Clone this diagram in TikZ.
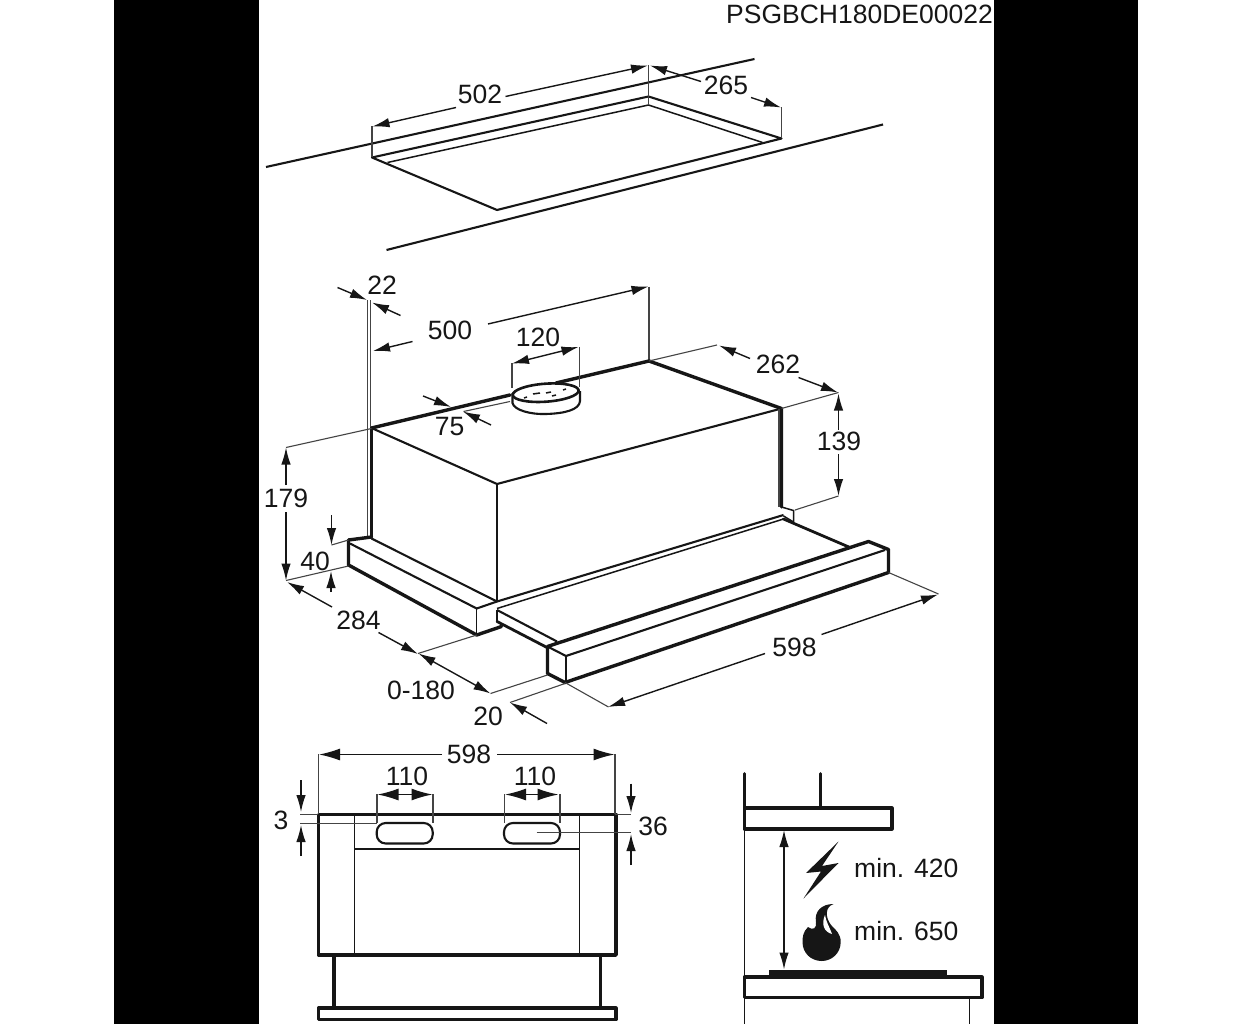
\documentclass[tikz,border=0pt]{standalone}
\usepackage{fontspec}
\setmainfont{Liberation Sans}
\usetikzlibrary{arrows.meta}
\definecolor{ink}{HTML}{161616}
\definecolor{ex}{HTML}{444444}
\tikzset{
  dimtext/.style={inner sep=0pt, text=ink, font=\fontsize{26.5}{26.5}\selectfont},
  dima/.style={draw=ink, line width=1.4pt, -{Latex[length=17pt,width=9.5pt]}},
  dimb/.style={draw=ink, line width=1.4pt, {Latex[length=17pt,width=9.5pt]}-{Latex[length=17pt,width=9.5pt]}},
  dimf/.style={draw=ink, line width=1.4pt, -{Latex[length=21pt,width=12pt]}},
  ext/.style={draw=ex, line width=1.1pt},
  fine/.style={draw=ink, line width=1.5pt},
  med/.style={draw=ink, line width=2.1pt},
  heavy/.style={draw=ink, line width=3.4pt, line cap=round, line join=round},
}
\begin{document}
\begin{tikzpicture}[x=1pt,y=-1pt]
  \useasboundingbox (0,0) rectangle (1252,1024);
  \fill[white] (0,0) rectangle (1252,1024);
  \fill[black] (114,0) rectangle (259,1024);
  \fill[black] (994,0) rectangle (1138,1024);
  \node[dimtext, anchor=east] (code) at (993,14) {PSGBCH180DE00022};

  % cut-out in the worktop
  \draw[med] (266,167) -- (754.5,59);
  \draw[med] (386.5,250) -- (883,124.5);
  \draw[med, line join=round] (372,157.5) -- (648.5,96.5) -- (781.5,138.5) -- (497,210) -- cycle;
  \draw[fine] (387.5,162.5) -- (648.5,105) -- (762.5,142.5);
  \draw[ext] (372,126.5) -- (372,157.5);
  \draw[ext] (648.5,65) -- (648.5,105);
  \draw[ext] (781.5,107.5) -- (781.5,138.5);
  \draw[dima] (456,107.5) -- (372.5,126.5);
  \draw[dima] (505.5,96.5) -- (648,65.5);
  \draw[dima] (701,81.5) -- (650,65.5);
  \draw[dima] (751,97.5) -- (781,107.5);
  \node[dimtext] (w502) at (480,94) {502};
  \node[dimtext] (d265) at (726,85) {265};

  % hood body
  \draw[ext] (367.5,300) -- (367.5,536);
  \draw[ext] (370.5,300) -- (370.5,428);
  \draw[ext] (649,286.5) -- (649,361);
  \draw[heavy] (371.5,428) -- (510,395);
  \draw[heavy] (556,383) -- (649,361) -- (781.5,408.5) -- (781.5,507);
  \draw[heavy] (371.5,428) -- (371.5,537);
  \draw[med] (371.5,428) -- (497,484) -- (781.5,408.5);
  \draw[fine] (497,484) -- (497,602);
  \draw[ext] (779,408.5) -- (779,507);
  \draw[ext] (463.5,411.5) -- (510,401.5);

  % duct
  \draw[ext] (512,363) -- (512,388);
  \draw[ext] (579.5,347) -- (579.5,387);
  \draw[med, fill=white] (512.5,393) -- (512.5,403) .. controls (514,410) and (530,414.5) .. (546,414) .. controls (564,413.5) and (579.5,410) .. (580,401) -- (580,391);
  \draw[heavy, fill=white, line width=2.6pt] (545.7,392.7) ellipse [x radius=33, y radius=9, rotate=4];
  \draw[fine] (533,394) -- (540,393) (546,393) -- (551,392) (552,396) -- (556,395) (563,390) -- (566,389) (524,398) -- (527,397);

  % lower frame and slide
  \draw[heavy] (348.5,540) -- (371.5,537);
  \draw[heavy] (348.5,540) -- (348.5,565) -- (476.7,635) -- (501.5,626.5);
  \draw[med] (350,543.5) -- (476.7,608.5) -- (497,601.5);
  \draw[med] (371.5,538.5) -- (497,601.5);
  \draw[fine] (476.7,608.5) -- (476.7,635);
  \draw[med] (497,601.5) -- (783.5,515);
  \draw[fine] (497,608.5) -- (783.5,519);
  \draw[med] (497,610) -- (497,621.5);
  \draw[med] (497,610) -- (557,641.5);
  \draw[heavy, line width=2.8pt] (497,621.5) -- (548,648);
  \draw[fine] (781.5,507) -- (793.5,510.5) -- (793.5,522);
  \draw[fine] (783.5,516) -- (793.5,522);
  \draw[heavy, line width=2.8pt] (783.5,519) -- (850,547.5);

  % front bar
  \draw[heavy] (556.5,643.5) -- (868.5,541.5) -- (888.5,549.5) -- (888.5,572.5) -- (565,682.5) -- (547.5,673.5) -- (547.5,646.5) -- cycle;
  \draw[med] (547.5,646.5) -- (566,656) -- (885,550);
  \draw[fine] (566,656) -- (566,682.5);

  % dimensions of the hood
  \draw[dima] (337.5,287.5) -- (367,300);
  \draw[dima] (400.5,315.5) -- (372,302.5);
  \draw[dima] (412.5,341.5) -- (373,351);
  \draw[dima] (488,324) -- (648.5,286.5);
  \draw[dimb] (512,363.5) -- (578.5,347);
  \draw[dima] (423,396) -- (451,407);
  \draw[dima] (491,425) -- (463,411.5);
  \draw[ext] (371.5,428.5) -- (286,447.5);
  \draw[dima] (286,485) -- (286,447.5);
  \draw[dima] (286,512) -- (286,580.5);
  \draw[ext] (649,361) -- (717,345);
  \draw[dima] (750,358.5) -- (719,345.5);
  \draw[dima] (798.5,377.5) -- (838,392.5);
  \draw[ext] (781.5,408.5) -- (838.5,392.5);
  \draw[dima] (838.5,430) -- (838.5,393.5);
  \draw[dima] (838.5,454) -- (838.5,496);
  \draw[ext] (838.5,496) -- (795,510);
  \draw[ext] (348.5,540) -- (331.5,545);
  \draw[dima] (331.5,515) -- (331.5,545);
  \draw[ext] (348.5,566) -- (286,580.5);
  \draw[dima] (331,592) -- (331,571);
  \draw[dima] (332,607) -- (287,582);
  \draw[dima] (378.5,632.5) -- (418,654);
  \draw[ext] (476.7,635) -- (418,653.5);
  \draw[dimb] (418.5,653.5) -- (490.5,693.5);
  \draw[ext] (547.5,675) -- (490.5,693.5);
  \draw[ext] (565,683.5) -- (510,702.5);
  \draw[dima] (547,723.5) -- (510,702.5);
  \draw[ext] (888.5,572.5) -- (938.5,594);
  \draw[dima] (821.5,634.5) -- (938,594.5);
  \draw[dima] (765,653.5) -- (608,707);
  \draw[ext] (565,682.5) -- (608.5,707);
  \node[dimtext] (h22) at (382,285) {22};
  \node[dimtext] (w500) at (450,330) {500};
  \node[dimtext] (dia120) at (538,337) {120};
  \node[dimtext] (off75) at (449.5,427) {75};
  \node[dimtext] (d262) at (778,364) {262};
  \node[dimtext] (h139) at (839,441) {139};
  \node[dimtext] (h179) at (286,498.5) {179};
  \node[dimtext] (h40) at (315,561) {40};
  \node[dimtext] (d284) at (358.5,620) {284};
  \node[dimtext] (ext180) at (421,690.5) {0-180};
  \node[dimtext] (t20) at (488,716) {20};
  \node[dimtext] (w598) at (794.5,647) {598};

  % front view
  \draw[heavy, line width=3.6pt] (318.5,814.5) rectangle (616,955);
  \draw[heavy, line width=3.2pt] (334,955) -- (334,1008) (600.5,955) -- (600.5,1008);
  \draw[heavy, line width=3.2pt] (318.5,1008) rectangle (616,1019.5);
  \draw[fine] (354.5,814.5) -- (354.5,955);
  \draw[fine] (579.5,814.5) -- (579.5,955);
  \draw[fine] (354.5,849) -- (579.5,849);
  \foreach \sx/\sname in {376.7/slotl,504/slotr}
    \draw[med, rounded corners=9pt] (\sx,823) rectangle ++(56,20.5);
  \draw[ext] (318.5,754) -- (318.5,814) (615,754) -- (615,814);
  \draw[ext] (377,794) -- (377,823) (433,794) -- (433,823);
  \draw[ext] (504.5,794) -- (504.5,823) (560,794) -- (560,823);
  \draw[ext] (300,814.5) -- (318,814.5) (615,814.5) -- (631,814.5);
  \draw[ext] (300,823.5) -- (377,823.5) (536.5,832.5) -- (631,832.5);
  \draw[dimf] (442,754.5) -- (319,754.5);
  \draw[dimf] (497,754.5) -- (614.5,754.5);
  \draw[dimf] (405,794.5) -- (377.5,794.5);
  \draw[dimf] (405,794.5) -- (432.5,794.5);
  \draw[dimf] (532,794.5) -- (505,794.5);
  \draw[dimf] (532,794.5) -- (558.5,794.5);
  \draw[dima] (301,780) -- (301,812);
  \draw[dima] (301,856) -- (301,825);
  \draw[dima] (631,783.5) -- (631,813);
  \draw[dima] (631,865) -- (631,834);
  \node[dimtext] (f598) at (469,754.5) {598};
  \node[dimtext] (sl110) at (407,776) {110};
  \node[dimtext] (sr110) at (535,776) {110};
  \node[dimtext] (g3) at (281,820) {3};
  \node[dimtext] (g36) at (653,826) {36};

  % clearance above the hob
  \draw[heavy, line width=2.8pt] (744.5,773.5) -- (744.5,808);
  \draw[heavy, line width=2.8pt] (820.5,773.5) -- (820.5,806);
  \draw[heavy, line width=3.2pt] (744.5,808) rectangle (892,829);
  \draw[fine] (744.5,829) -- (744.5,977);
  \draw[dimb] (784,830) -- (784,969.5);
  \fill[ink] (768.5,970) rectangle (946.5,976);
  \draw[heavy, line width=3.2pt] (744.5,977) rectangle (982,997.5);
  \draw[fine] (744.5,997.5) -- (744.5,1024);
  \draw[fine] (969.5,997.5) -- (969.5,1024);
  \fill[ink] (838.5,841.5) -- (806,873) -- (821,871.5) -- (803.5,898.5) -- (838.5,863) -- (822,866) -- cycle;
  \fill[ink] (833.5,904) .. controls (822,904) and (814,911) .. (816,922)
    .. controls (817,928) and (813,931) .. (808,927)
    .. controls (803,932) and (802.5,937) .. (802.5,942)
    .. controls (802.5,953) and (811,961) .. (821.7,961)
    .. controls (832,961) and (840.7,953) .. (840.7,942)
    .. controls (840.7,934) and (836,930) .. (831,925)
    .. controls (825,917) and (825,907) .. (833.5,904) -- cycle;
  \fill[white] (825,915) .. controls (821,924) and (824,932) .. (832,934)
    .. controls (830,928) and (826,922) .. (825,915) -- cycle;
  \node[dimtext, anchor=west] (min420) at (854,868) {min. 420};
  \node[dimtext, anchor=west] (min650) at (854,931) {min. 650};
\end{tikzpicture}
\end{document}
